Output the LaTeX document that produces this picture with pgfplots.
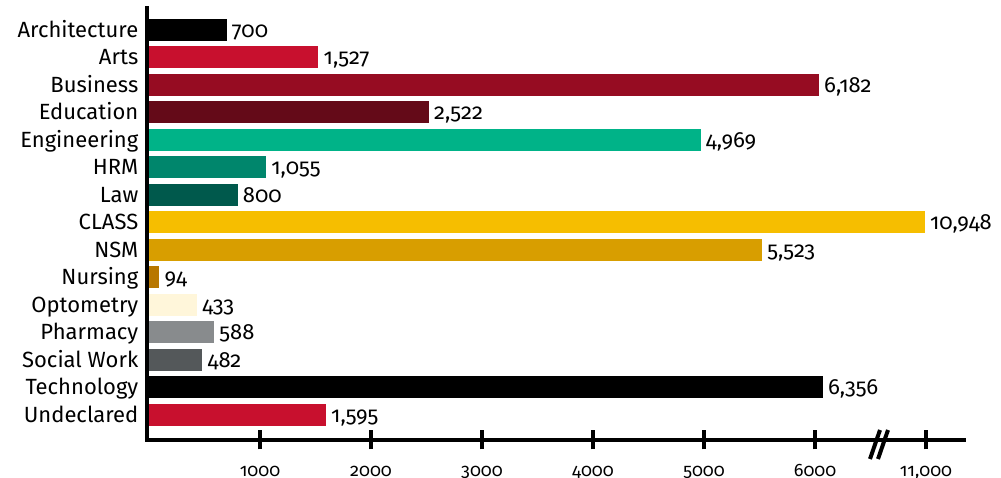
\documentclass[border=0pt]{standalone}
\usepackage{pgfplots}
\pgfplotsset{compat=1.18}
\usepackage{fontspec}
\setmainfont{Fira Sans}[Numbers=OldStyle]
\definecolor{cArts}{HTML}{C8102E}
\definecolor{cBus}{HTML}{960C22}
\definecolor{cEdu}{HTML}{640A18}
\definecolor{cEng}{HTML}{00B388}
\definecolor{cHRM}{HTML}{00866C}
\definecolor{cLaw}{HTML}{00594C}
\definecolor{cClass}{HTML}{F6BE00}
\definecolor{cNSM}{HTML}{D89E00}
\definecolor{cNur}{HTML}{B87700}
\definecolor{cOpt}{HTML}{FFF6DA}
\definecolor{cPha}{HTML}{888B8D}
\definecolor{cSW}{HTML}{54585A}
\begin{document}
\begin{tikzpicture}
\useasboundingbox (-147pt,-38pt) rectangle (854pt,440pt);
\begin{axis}[
  x=0.111pt, y=27.5pt,
  xmin=-18, xmax=12710, ymin=-0.909, ymax=14.8,
  x coord trafo/.code={\pgfmathparse{#1>6000 ? 6000+(#1-6000)/5 : #1}},
  axis lines=left,
  axis line style={-, line width=4.5pt, line cap=rect},
  xtick={1000,2000,3000,4000,5000,6000,11000},
  xticklabels={1000,2000,3000,4000,5000,6000,{11,000}},
  ytick={0,...,14},
  yticklabels={Undeclared,Technology,Social Work,Pharmacy,Optometry,Nursing,NSM,CLASS,Law,HRM,Engineering,Education,Business,Arts,Architecture},
  tick align=center,
  major tick length=19pt,
  xtick style={line width=4pt, black},
  ytick style={draw=none},
  xticklabel style={font=\fontsize{18}{20}\selectfont, anchor=base, inner sep=0pt, yshift=-27pt},
  yticklabel style={font=\fontsize{22}{24}\selectfont, anchor=base east, inner sep=0pt, xshift=1pt, yshift=-7.3pt},
  clip=false,
  every axis plot/.append style={xbar, bar width=22pt, bar shift=0pt, draw=none},
  nodes near coords, point meta=explicit symbolic,
  every node near coord/.append style={font=\fontsize{22}{24}\selectfont, anchor=base west, inner sep=0pt, xshift=5pt, yshift=-7.3pt, text=black},
]
\addplot[fill=black]  coordinates {(700,14) [700]};
\addplot[fill=cArts]  coordinates {(1527,13) [1,527]};
\addplot[fill=cBus]   coordinates {(6182,12) [6,182]};
\addplot[fill=cEdu]   coordinates {(2522,11) [2,522]};
\addplot[fill=cEng]   coordinates {(4969,10) [4,969]};
\addplot[fill=cHRM]   coordinates {(1055,9) [1,055]};
\addplot[fill=cLaw]   coordinates {(800,8) [800]};
\addplot[fill=cClass] coordinates {(10948,7) [10,948]};
\addplot[fill=cNSM]   coordinates {(5523,6) [5,523]};
\addplot[fill=cNur]   coordinates {(94,5) [94]};
\addplot[fill=cOpt]   coordinates {(433,4) [433]};
\addplot[fill=cPha]   coordinates {(588,3) [588]};
\addplot[fill=cSW]    coordinates {(482,2) [482]};
\addplot[fill=black]  coordinates {(6356,1) [6,356]};
\addplot[fill=cArts]  coordinates {(1595,0) [1,595]};
\end{axis}
\draw[line width=4pt] (723pt,-19pt) -- (733pt,10pt);
\draw[line width=4pt] (731pt,-19pt) -- (741pt,10pt);
\end{tikzpicture}
\end{document}
